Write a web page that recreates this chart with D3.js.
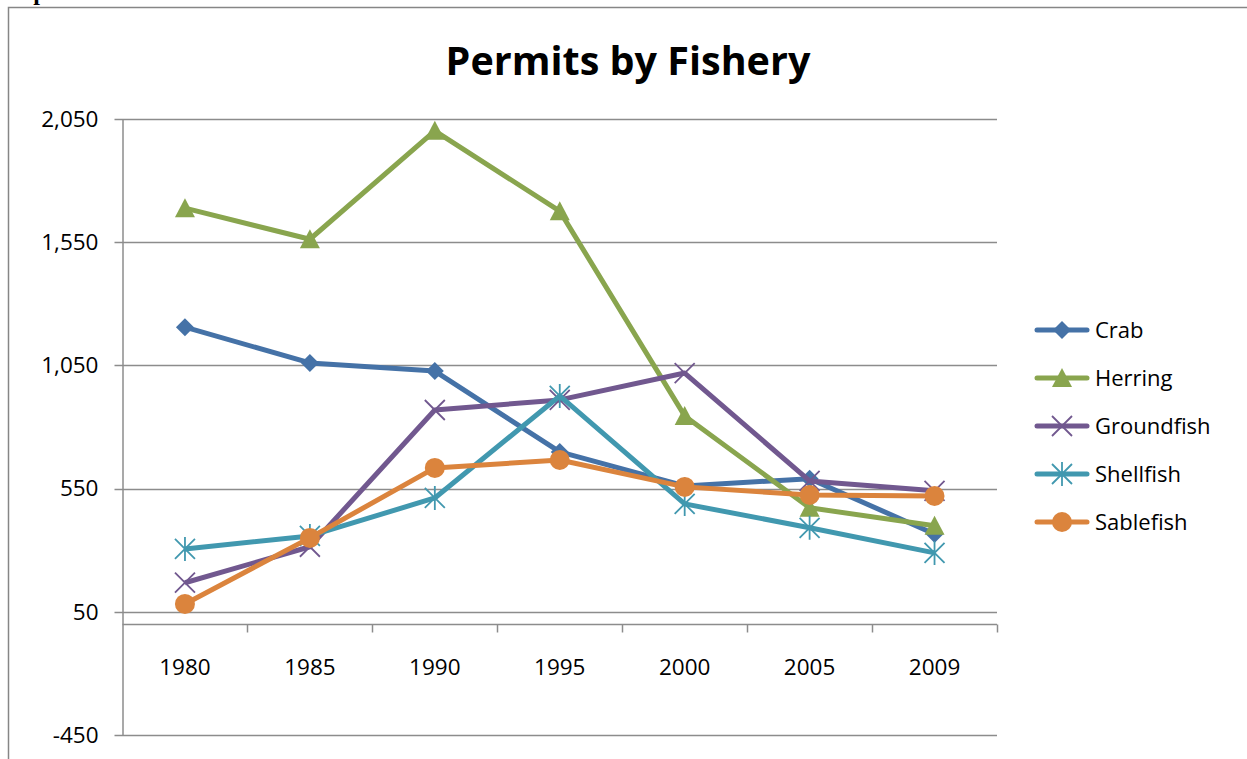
<!DOCTYPE html>
<html>
<head>
<meta charset="utf-8">
<script src="https://cdn.jsdelivr.net/npm/d3@7"></script>
<style>
  body { margin: 0; background: #fff; }
  svg { display: block; font-family: "Open Sans", "Liberation Sans", sans-serif; }
</style>
</head>
<body>
<svg id="chart"></svg>
<script>
const years = ["1980", "1985", "1990", "1995", "2000", "2005", "2009"];
const yTicks = [-450, 50, 550, 1050, 1550, 2050];

const crab = [1205, 1060, 1027, 699, 561, 590, 366];
const herring = [1688, 1562, 2002, 1676, 845, 472, 399];
const groundfish = [168, 314, 869, 910, 1019, 581, 541];
const shellfish = [305, 358, 512, 926, 488, 391, 289];
const sablefish = [82, 350, 634, 666, 557, 524, 520];

const seriesNames = ["Crab", "Herring", "Groundfish", "Shellfish", "Sablefish"];
const seriesValues = [crab, herring, groundfish, shellfish, sablefish];
const colors = ["#4572A7", "#89A54E", "#71588F", "#4198AF", "#DB843D"];
const markers = ["diamond", "triangle", "cross", "star", "circle"];

const width = 1247, height = 759;
const margin = {top: 119, right: 250, bottom: 24, left: 122.5};

const svg = d3.select("#chart")
    .attr("width", width)
    .attr("height", height);

// outer frame (partly cut off in the picture)
svg.append("text")
    .attr("x", -8)
    .attr("y", 0)
    .attr("font-family", "Liberation Serif")
    .attr("font-weight", "bold")
    .attr("font-size", 24)
    .text("Graph");
svg.append("path")
    .attr("d", "M8.5,759V7.5H1247")
    .attr("fill", "none")
    .attr("stroke", "#868686")
    .attr("stroke-width", 1.5);

svg.append("text")
    .attr("x", 628)
    .attr("y", 75)
    .attr("text-anchor", "middle")
    .attr("font-weight", "bold")
    .attr("font-size", 39.5)
    .attr("fill", "#000")
    .text("Permits by Fishery");

const xScale = d3.scaleBand()
    .domain(years)
    .range([margin.left, 997])
    .padding(0);

const yScale = d3.scaleLinear()
    .domain([-450, 2050])
    .range([735, margin.top]);

// gridlines
svg.append("g")
    .selectAll("line")
    .data(yTicks)
    .join("line")
    .attr("x1", margin.left - 8)
    .attr("x2", 997)
    .attr("y1", d => Math.round(yScale(d)) + 0.5)
    .attr("y2", d => Math.round(yScale(d)) + 0.5)
    .attr("stroke", "#8c8c8c")
    .attr("stroke-width", 1.5);

// y axis
const yAxis = d3.axisLeft(yScale)
    .tickValues(yTicks)
    .tickFormat(d => d3.format(",")(d).replace("\u2212", "-"))
    .tickSize(0)
    .tickPadding(24);

const yAxisG = svg.append("g")
    .attr("transform", `translate(${margin.left},0)`)
    .call(yAxis);
yAxisG.select(".domain").attr("stroke", "#8c8c8c").attr("stroke-width", 1.5);
yAxisG.selectAll("text").attr("font-size", 22.5).attr("fill", "#000").attr("font-family", "Open Sans");

// x (category) axis, crossing at 0
const x0 = Math.round(yScale(0)) + 0.5;
const xAxisG = svg.append("g");
xAxisG.append("line")
    .attr("x1", margin.left).attr("x2", 997)
    .attr("y1", x0).attr("y2", x0)
    .attr("stroke", "#8c8c8c").attr("stroke-width", 1.5);
const bounds = years.map(y => xScale(y)).concat([xScale(years[years.length - 1]) + xScale.bandwidth()]);
xAxisG.selectAll("line.tick")
    .data(bounds.slice(1))
    .join("line")
    .attr("class", "tick")
    .attr("x1", d => Math.round(d) + 0.5).attr("x2", d => Math.round(d) + 0.5)
    .attr("y1", x0).attr("y2", x0 + 8)
    .attr("stroke", "#8c8c8c").attr("stroke-width", 1.5);
xAxisG.selectAll("text")
    .data(years)
    .join("text")
    .attr("x", d => xScale(d) + xScale.bandwidth() / 2)
    .attr("y", 675)
    .attr("text-anchor", "middle")
    .attr("font-size", 22.5)
    .attr("fill", "#000")
    .text(d => d);

// marker shapes
function drawMarker(g, type, color, cx, cy) {
    if (type === "diamond") {
        g.append("path").attr("d", `M${cx},${cy - 9}L${cx + 9},${cy}L${cx},${cy + 9}L${cx - 9},${cy}Z`).attr("fill", color);
    } else if (type === "triangle") {
        g.append("path").attr("d", `M${cx},${cy - 10}L${cx + 10},${cy + 9}L${cx - 10},${cy + 9}Z`).attr("fill", color);
    } else if (type === "circle") {
        g.append("circle").attr("cx", cx).attr("cy", cy).attr("r", 10).attr("fill", color);
    } else if (type === "cross") {
        g.append("path").attr("d", `M${cx - 10},${cy - 10}L${cx + 10},${cy + 10}M${cx - 10},${cy + 10}L${cx + 10},${cy - 10}`)
            .attr("stroke", color).attr("stroke-width", 1.8);
    } else if (type === "star") {
        g.append("path").attr("d", `M${cx - 10},${cy - 10}L${cx + 10},${cy + 10}M${cx - 10},${cy + 10}L${cx + 10},${cy - 10}M${cx},${cy - 12}L${cx},${cy + 12}`)
            .attr("stroke", color).attr("stroke-width", 1.8);
    }
}

const line = d3.line()
    .x((d, i) => xScale(years[i]) + xScale.bandwidth() / 2)
    .y(d => yScale(d));

const plot = svg.append("g");
seriesValues.forEach((vals, s) => {
    const g = plot.append("g");
    g.append("path")
        .datum(vals)
        .attr("d", line)
        .attr("fill", "none")
        .attr("stroke", colors[s])
        .attr("stroke-width", 5)
        .attr("stroke-linejoin", "round");
    vals.forEach((v, i) => {
        drawMarker(g, markers[s], colors[s], xScale(years[i]) + xScale.bandwidth() / 2, yScale(v));
    });
});

// legend
const legend = svg.append("g");
seriesNames.forEach((name, s) => {
    const ly = 330 + s * 48;
    const g = legend.append("g");
    g.append("line")
        .attr("x1", 1037).attr("x2", 1087)
        .attr("y1", ly).attr("y2", ly)
        .attr("stroke", colors[s]).attr("stroke-width", 5)
        .attr("stroke-linecap", "round");
    drawMarker(g, markers[s], colors[s], 1062, ly);
    g.append("text")
        .attr("x", 1095)
        .attr("y", ly + 8)
        .attr("font-size", 22)
        .attr("fill", "#000")
        .text(name);
});
</script>
</body>
</html>
